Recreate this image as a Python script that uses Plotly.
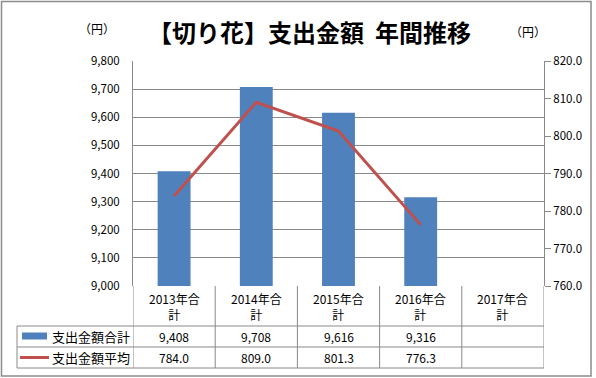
import plotly.graph_objects as go

categories = ["2013年合計", "2014年合計", "2015年合計", "2016年合計", "2017年合計"]
header_labels = ["2013年合<br>計", "2014年合<br>計", "2015年合<br>計", "2016年合<br>計", "2017年合<br>計"]
total_values = [9408, 9708, 9616, 9316, None]
avg_values = [784.0, 809.0, 801.3, 776.3, None]
series_names = ["支出金額合計", "支出金額平均"]
title_text = "【切り花】支出金額  年間推移"
unit_text = "（円）"

BAR_COLOR = "#4F81BD"
LINE_COLOR = "#C0504D"
GRID = "#898989"
FONT = "Noto Sans CJK JP"

W, H = 596, 378
L, R, T, B = 133, 544, 61, 286


def px(x):
    return (x - L) / (R - L)


def py(y):
    return (B - y) / (B - T)


fig = go.Figure()
fig.add_trace(go.Bar(x=categories, y=total_values, name=series_names[0],
                     marker=dict(color=BAR_COLOR, line=dict(width=0)),
                     yaxis="y", hoverinfo="skip"))
fig.add_trace(go.Scatter(x=categories, y=avg_values, name=series_names[1],
                         mode="lines", line=dict(color=LINE_COLOR, width=3),
                         yaxis="y2", hoverinfo="skip", connectgaps=False))

shapes = []
annotations = []

# outer border
shapes.append(dict(type="rect", xref="paper", yref="paper",
                   x0=px(1.5), x1=px(591), y0=py(1.5), y1=py(376),
                   line=dict(color="#8c8c8c", width=1.5), layer="below"))

# table horizontal lines
for yy in [326, 347, 368]:
    shapes.append(dict(type="line", xref="paper", yref="paper",
                       x0=px(17), x1=px(R), y0=py(yy), y1=py(yy),
                       line=dict(color=GRID, width=1)))
# legend column left border
shapes.append(dict(type="line", xref="paper", yref="paper",
                   x0=px(17), x1=px(17), y0=py(326), y1=py(368),
                   line=dict(color=GRID, width=1)))
# category separators in table
for i in range(len(categories) + 1):
    shapes.append(dict(type="line", xref="x", yref="paper",
                       x0=i - 0.5, x1=i - 0.5, y0=py(B), y1=py(368),
                       line=dict(color=GRID, width=1)))

# legend keys
shapes.append(dict(type="rect", xref="paper", yref="paper",
                   x0=px(22), x1=px(47), y0=py(332.5), y1=py(339.5),
                   fillcolor=BAR_COLOR, line=dict(width=0)))
shapes.append(dict(type="line", xref="paper", yref="paper",
                   x0=px(20), x1=px(49), y0=py(357.5), y1=py(357.5),
                   line=dict(color=LINE_COLOR, width=3)))

tfont = dict(family=FONT, size=12, color="#000000")
for yy, name in zip([336.5, 357.5], series_names):
    annotations.append(dict(x=px(50), y=py(yy), xref="paper", yref="paper",
                            text=name, showarrow=False, xanchor="left",
                            yanchor="middle", font=dict(family=FONT, size=13, color="#000")))

for i, cat in enumerate(categories):
    annotations.append(dict(x=cat, y=py(306), xref="x", yref="paper",
                            text=header_labels[i], showarrow=False,
                            xanchor="center", yanchor="middle", font=tfont))
    tv = total_values[i]
    av = avg_values[i]
    if tv is not None:
        annotations.append(dict(x=cat, y=py(336.5), xref="x", yref="paper",
                                text=f"{tv:,}", showarrow=False,
                                xanchor="center", yanchor="middle", font=tfont))
    if av is not None:
        annotations.append(dict(x=cat, y=py(357.5), xref="x", yref="paper",
                                text=f"{av:.1f}", showarrow=False,
                                xanchor="center", yanchor="middle", font=tfont))

# title and units
annotations.append(dict(x=px(309), y=py(31), xref="paper", yref="paper",
                        text=f"<b>{title_text}</b>", showarrow=False,
                        xanchor="center", yanchor="middle",
                        font=dict(family=FONT, size=24, color="#000")))
for xx, yy in [(97, 29), (528, 31)]:
    annotations.append(dict(x=px(xx), y=py(yy), xref="paper", yref="paper",
                            text=unit_text, showarrow=False,
                            xanchor="center", yanchor="middle",
                            font=dict(family=FONT, size=12, color="#000")))

fig.update_layout(
    width=W, height=H,
    margin=dict(l=L, r=W - R, t=T, b=H - B, autoexpand=False),
    paper_bgcolor="white", plot_bgcolor="white",
    showlegend=False,
    bargap=0.6,
    font=dict(family=FONT, size=11, color="#000"),
    xaxis=dict(type="category", showticklabels=False, showgrid=False,
               zeroline=False, showline=False, ticks="",
               range=[-0.5, len(categories) - 0.5]),
    yaxis=dict(range=[9000, 9800], dtick=100, tickformat=",",
               showgrid=True, gridcolor=GRID, gridwidth=1,
               showline=True, linecolor=GRID, linewidth=1,
               zeroline=False, ticks="", ticklabelstandoff=10,
               tickfont=dict(family=FONT, size=11.5, color="#000")),
    yaxis2=dict(range=[760, 820], dtick=10, tickformat=".1f",
                overlaying="y", side="right", showgrid=False,
                showline=True, linecolor=GRID, linewidth=1,
                zeroline=False, ticks="outside", ticklen=6, tickcolor=GRID,
                tickfont=dict(family=FONT, size=11.5, color="#000")),
    shapes=shapes,
    annotations=annotations,
)

fig.write_html("out.html", config={"displayModeBar": False},
               post_script="document.body.style.margin='0';")
